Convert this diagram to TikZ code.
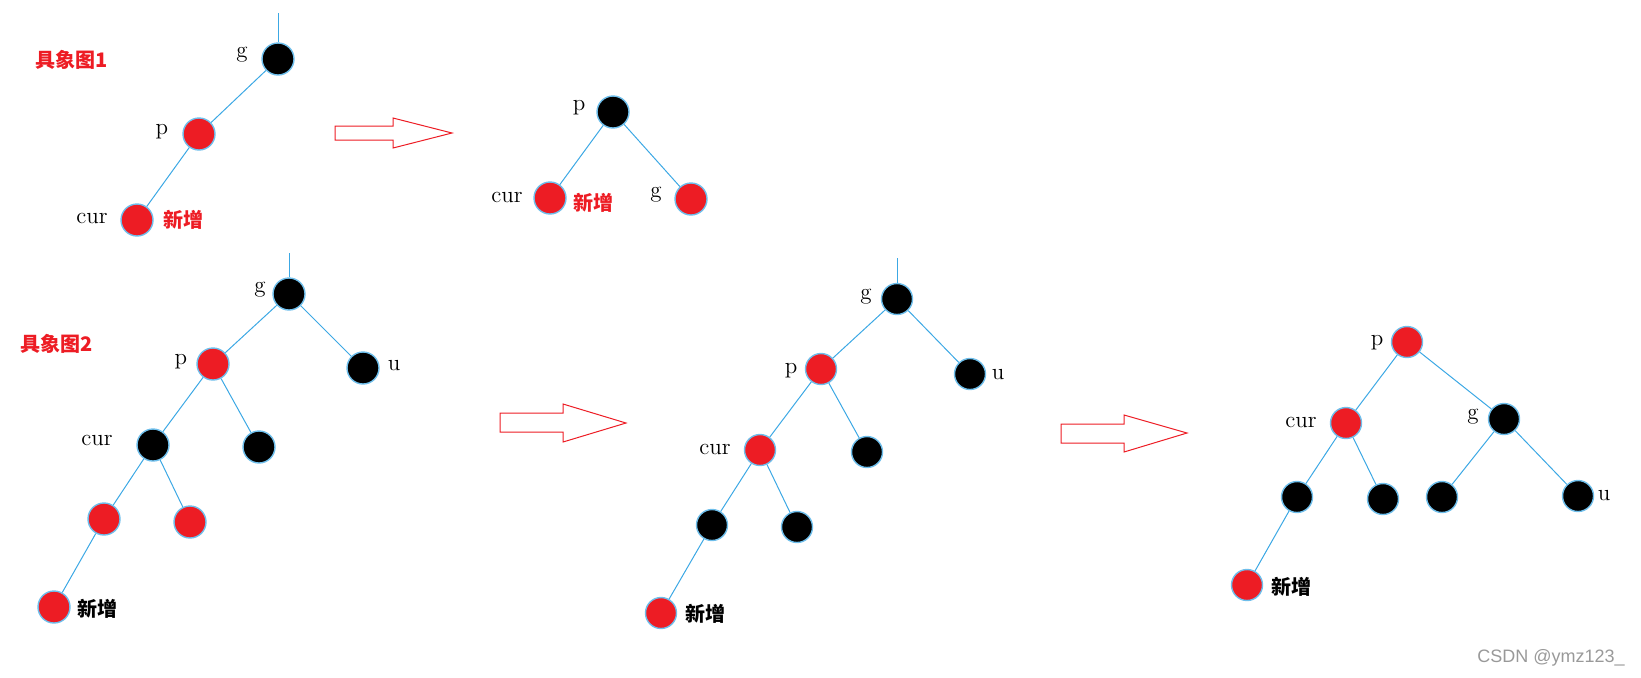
\documentclass[tikz,border=0pt]{standalone}
\usepackage{fontspec}
\newfontfamily\cjk{Noto Sans CJK SC}
\newfontfamily\wmfont{Liberation Sans}
\usetikzlibrary{positioning}
\definecolor{rbred}{RGB}{237,28,36}
\definecolor{lineblue}{RGB}{60,168,228}
\definecolor{ringblue}{RGB}{110,190,235}
\tikzset{
  rb/.style = {circle, draw=ringblue, line width=0.7pt, minimum size=16pt, inner sep=0pt},
  rnode/.style = {rb, fill=rbred},
  bnode/.style = {rb, fill=black},
  edge/.style = {draw=lineblue, line width=0.5pt},
  lbl/.style = {font=\fontsize{11.5}{12}\selectfont, inner sep=0pt},
  tag/.style = {font=\cjk\bfseries\fontsize{10}{11}\selectfont, inner sep=0pt},
  hollow/.style = {draw=rbred, line width=0.5pt, fill=white}
}

\begin{document}
\begin{tikzpicture}[x=0.5pt, y=-0.5pt]
\useasboundingbox (0,0) rectangle (1641,677);

% Case 1: before
\node[tag, text=rbred] (title1) at (72,60) {具象图1};
\coordinate (t1) at (278,13);
\node[bnode] (g1) at (278,59) {};
\node[rnode] (p1) at (199,134) {};
\node[rnode] (c1) at (137,220) {};
\node[lbl] (g1l) at (242,55) {g};
\node[lbl] (p1l) at (162,132) {p};
\node[lbl] (c1l) at (92,218) {cur};
\node[tag, text=rbred] (c1n) at (183,220) {新增};
\draw[edge] (t1) -- (g1);
\draw[edge] (g1) -- (p1);
\draw[edge] (p1) -- (c1);

% Arrow 1
\draw[hollow] (335,126) -- (393,126) -- (393,118) -- (452,133) -- (393,148) -- (393,140) -- (335,140) -- cycle;

% Case 1: after
\node[bnode] (p2) at (613,112) {};
\node[rnode] (c2) at (550,198) {};
\node[rnode] (g2) at (691,199) {};
\node[lbl] (p2l) at (579,108) {p};
\node[lbl] (c2l) at (507,197) {cur};
\node[lbl] (g2l) at (656,195) {g};
\node[tag, text=rbred] (c2n) at (593,203) {新增};
\draw[edge] (p2) -- (c2);
\draw[edge] (p2) -- (g2);

% Case 2: before
\node[tag, text=rbred] (title2) at (57,344) {具象图2};
\coordinate (t3) at (289,253);
\node[bnode] (g3) at (289,294) {};
\node[rnode] (p3) at (213,364) {};
\node[bnode] (u3) at (363,368) {};
\node[bnode] (c3) at (153,445) {};
\node[bnode] (s3) at (259,447) {};
\node[rnode] (a3) at (104,519) {};
\node[rnode] (b3) at (190,522) {};
\node[rnode] (n3) at (54,607) {};
\node[lbl] (g3l) at (260,290) {g};
\node[lbl] (p3l) at (181,362) {p};
\node[lbl] (u3l) at (394,366) {u};
\node[lbl] (c3l) at (97,440) {cur};
\node[tag] (n3l) at (97,609) {新增};
\draw[edge] (t3) -- (g3);
\draw[edge] (g3) -- (p3);
\draw[edge] (g3) -- (u3);
\draw[edge] (p3) -- (c3);
\draw[edge] (p3) -- (s3);
\draw[edge] (c3) -- (a3);
\draw[edge] (c3) -- (b3);
\draw[edge] (a3) -- (n3);

% Arrow 2
\draw[hollow] (500,413) -- (563,413) -- (563,404) -- (626,423) -- (563,442) -- (563,432) -- (500,432) -- cycle;

% Case 2: recolour
\begin{scope}[rb/.append style={minimum size=15.5pt}]
\coordinate (t4) at (897,258);
\node[bnode] (g4) at (897,299) {};
\node[rnode] (p4) at (821,369) {};
\node[bnode] (u4) at (970,374) {};
\node[rnode] (c4) at (760,450) {};
\node[bnode] (s4) at (867,452) {};
\node[bnode] (a4) at (712,525) {};
\node[bnode] (b4) at (797,527) {};
\node[rnode] (n4) at (661,613) {};
\end{scope}
\node[lbl] (g4l) at (866,297) {g};
\node[lbl] (p4l) at (791,371) {p};
\node[lbl] (u4l) at (998,375) {u};
\node[lbl] (c4l) at (715,449) {cur};
\node[tag] (n4l) at (705,614) {新增};
\draw[edge] (t4) -- (g4);
\draw[edge] (g4) -- (p4);
\draw[edge] (g4) -- (u4);
\draw[edge] (p4) -- (c4);
\draw[edge] (p4) -- (s4);
\draw[edge] (c4) -- (a4);
\draw[edge] (c4) -- (b4);
\draw[edge] (a4) -- (n4);

% Arrow 3
\draw[hollow] (1061,424) -- (1124,424) -- (1124,415) -- (1187,433) -- (1124,452) -- (1124,443) -- (1061,443) -- cycle;

% Case 2: after rotation
\begin{scope}[rb/.append style={minimum size=15.5pt}]
\node[rnode] (p5) at (1407,342) {};
\node[rnode] (c5) at (1346,423) {};
\node[bnode] (g5) at (1504,419) {};
\node[bnode] (a5) at (1297,497) {};
\node[bnode] (b5) at (1383,499) {};
\node[bnode] (d5) at (1442,497) {};
\node[bnode] (u5) at (1578,496) {};
\node[rnode] (n5) at (1247,585) {};
\end{scope}
\node[lbl] (p5l) at (1377,343) {p};
\node[lbl] (c5l) at (1301,422) {cur};
\node[lbl] (g5l) at (1473,417) {g};
\node[lbl] (u5l) at (1604,496) {u};
\node[tag] (n5l) at (1291,587) {新增};
\draw[edge] (p5) -- (c5);
\draw[edge] (p5) -- (g5);
\draw[edge] (c5) -- (a5);
\draw[edge] (c5) -- (b5);
\draw[edge] (g5) -- (d5);
\draw[edge] (g5) -- (u5);
\draw[edge] (a5) -- (n5);

% watermark
\node[font=\wmfont\fontsize{9}{10}\selectfont, text=black!40, inner sep=0pt] (wm) at (1551,658) {CSDN @ymz123\_};

\end{tikzpicture}
\end{document}
